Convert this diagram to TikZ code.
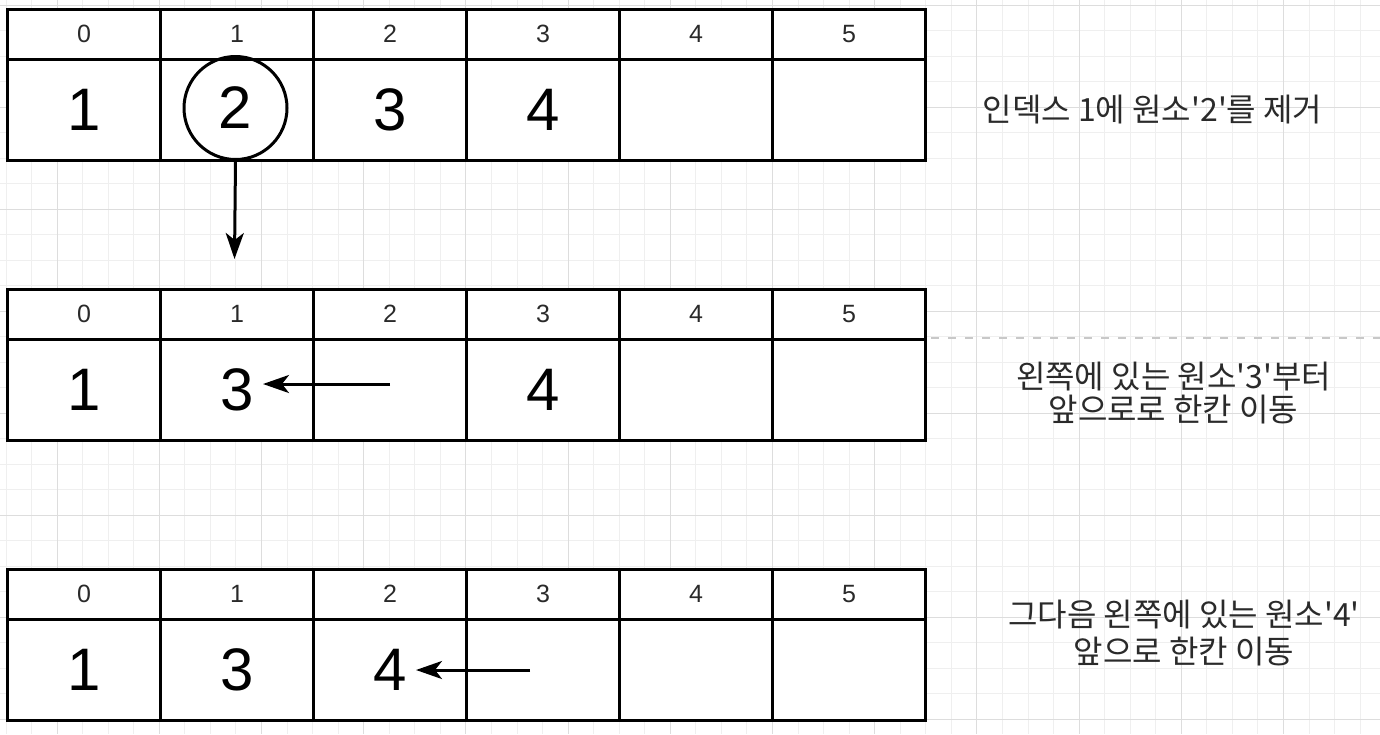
\documentclass[tikz,border=0pt]{standalone}
\usepackage{fontspec}
\setmainfont{Liberation Sans}
\newfontfamily\krfont{Noto Sans CJK KR}
\usetikzlibrary{arrows.meta}
\definecolor{gridminor}{HTML}{EFEFEF}
\definecolor{gridmajor}{HTML}{DDDDDD}
\definecolor{txt}{HTML}{2A2A2A}
\definecolor{dashgrey}{HTML}{C8C8C8}
\begin{document}
\begin{tikzpicture}[x=1pt,y=-1pt,
  hcell/.style={draw=black, line width=3pt, fill=white, minimum width=153pt, minimum height=50.5pt, inner sep=0pt, text=txt, font=\fontsize{25}{30}\selectfont},
  vcell/.style={draw=black, line width=3pt, fill=white, minimum width=153pt, minimum height=101pt, inner sep=0pt, text=black, font=\fontsize{60}{70}\selectfont},
  ring/.style={circle, draw=black, line width=3pt, minimum size=103pt, inner sep=0pt, font=\fontsize{60}{70}\selectfont},
  arr/.style={line width=3pt, -{Stealth[length=26pt, width=18pt, inset=7pt]}},
  lbl/.style={text=txt, inner sep=0pt, align=center},
  sep/.style={draw=dashgrey, line width=1.5pt, dash pattern=on 8pt off 9pt}]
\useasboundingbox (0,0) rectangle (1380,734);
\fill[white] (0,0) rectangle (1380,734);
% background grid
\foreach \i in {0,...,53} {\pgfmathsetmacro\gx{6.0+25.55*\i}\draw[gridminor, line width=1pt] (\gx,0) -- (\gx,734);}
\foreach \i in {0,...,28} {\pgfmathsetmacro\gy{5+25.5*\i}\draw[gridminor, line width=1pt] (0,\gy) -- (1380,\gy);}
\foreach \i in {0,...,12} {\pgfmathsetmacro\gx{57.1+102.2*\i}\draw[gridmajor, line width=1pt] (\gx,0) -- (\gx,734);}
\foreach \i in {0,...,7} {\pgfmathsetmacro\gy{5+102*\i}\draw[gridmajor, line width=1pt] (0,\gy) -- (1380,\gy);}
% tables
\foreach \t in {0,1,2} {
  \foreach \k in {0,...,5} {
    \node[hcell] (h\t\k) at ({84+153*\k},{34.25+280*\t}) {\k};
    \node[vcell] (v\t\k) at ({84+153*\k},{110+280*\t}) {};
  }
}
% values
\node at (v00) {\fontsize{60}{70}\selectfont 1};
\node at (v02) {\fontsize{60}{70}\selectfont 3};
\node at (v03) {\fontsize{60}{70}\selectfont 4};
\node[ring] (c) at (235.5,108) {2};
\node at (v10) {\fontsize{60}{70}\selectfont 1};
\node (n13) at (v11) {\fontsize{60}{70}\selectfont 3};
\node at (v13) {\fontsize{60}{70}\selectfont 4};
\node at (v20) {\fontsize{60}{70}\selectfont 1};
\node at (v21) {\fontsize{60}{70}\selectfont 3};
\node (n24) at (v22) {\fontsize{60}{70}\selectfont 4};
% arrows
\coordinate (a1) at (234.5,259);
\draw[arr] (c.south) -- (a1);
\coordinate (a2s) at (390,384);
\coordinate (a2e) at (263,384);
\draw[arr] (a2s) -- (a2e);
\coordinate (a3s) at (530,670);
\coordinate (a3e) at (416,670);
\draw[arr] (a3s) -- (a3e);
% dashed separator
\coordinate (d1) at (931,338);
\coordinate (d2) at (1380,338);
\draw[sep] (d1) -- (d2);
% labels
\node[lbl, font=\krfont\fontsize{32}{33}\selectfont] (l1) at (1152.5,110) {인덱스 1에 원소'2'를 제거};
\node[lbl, font=\krfont\fontsize{32}{33}\selectfont] (l2) at (1173.5,393.5) {왼쪽에 있는 원소'3'부터\\앞으로로 한칸 이동};
\node[lbl, font=\krfont\fontsize{32}{37}\selectfont] (l3) at (1184,633.5) {그다음 왼쪽에 있는 원소'4'\\앞으로 한칸 이동};
\end{tikzpicture}
\end{document}
